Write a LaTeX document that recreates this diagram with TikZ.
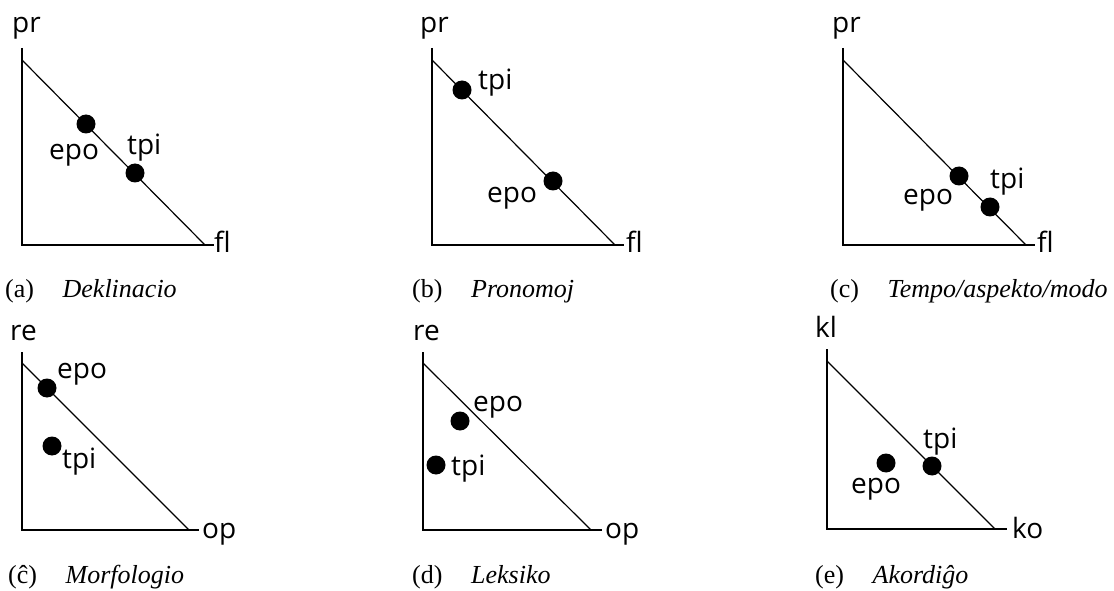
\documentclass[tikz,border=0pt]{standalone}
\usepackage{fontspec}
\setmainfont{Liberation Serif}
\newfontfamily\labelfont{Open Sans}
\begin{document}
\begin{tikzpicture}[x=1pt, y=1pt,
		axis/.style={line width=1.8pt},
		diag/.style={line width=1.2pt},
		dot/.style={circle, fill=black, inner sep=0pt, minimum size=19pt},
		lab/.style={font=\labelfont\fontsize{28}{30}\selectfont, anchor=base west, inner sep=0pt},
		capt/.style={font=\fontsize{26}{28}\selectfont, anchor=base west, inner sep=0pt}]
		\useasboundingbox (0,0) rectangle (1114,590);
		
		%---------------- (a) DEKLINACIO ----------------
		\begin{scope}[shift={(22,345)}]
			\coordinate (T) at (0,197);
			\coordinate (O) at (0,0);
			\coordinate (H) at (192,0);
			\coordinate (D1) at (0,185);
			\coordinate (D2) at (183,0);
			\draw[axis] (T) -- (O) -- (H);
			\draw[diag] (D1) -- (D2);
			\node[lab] (ya) at (-10,212) {pr};
			\node[lab] (xa) at (192,-8) {fl};
			% points
			\node[dot] (epoa) at (64,121) {};
			\node[dot] (tpia) at (113,72) {};
			\node[lab] (epola) at (27,85) {epo};
			\node[lab] (tpila) at (105,90) {tpi};
		\end{scope}
		\node[capt] (capa) at (5,292) {(a)\hspace{1.1em}\textit{Deklinacio}};
		
		%---------------- (b) PRONOMOJ ----------------
		\begin{scope}[shift={(432,345)}]
			\coordinate (T) at (0,197);
			\coordinate (O) at (0,0);
			\coordinate (H) at (192,0);
			\coordinate (D1) at (0,185);
			\coordinate (D2) at (183,0);
			\draw[axis] (T) -- (O) -- (H);
			\draw[diag] (D1) -- (D2);
			\node[lab] (yb) at (-12,212) {pr};
			\node[lab] (xb) at (194,-8) {fl};
			% points
			\node[dot] (tpib) at (30,155) {};
			\node[dot] (epob) at (121,64) {};
			\node[lab] (tpilb) at (46,155) {tpi};
			\node[lab] (epolb) at (55,42) {epo};
		\end{scope}
		\node[capt] (capb) at (412,292) {(b)\hspace{1.1em}\textit{Pronomoj}};
		
		%---------------- (c) TEMPO/ASPEKTO/MODO ----------------
		\begin{scope}[shift={(843,345)}]
			\coordinate (T) at (0,197);
			\coordinate (O) at (0,0);
			\coordinate (H) at (192,0);
			\coordinate (D1) at (0,185);
			\coordinate (D2) at (183,0);
			\draw[axis] (T) -- (O) -- (H);
			\draw[diag] (D1) -- (D2);
			\node[lab] (yc) at (-11,212) {pr};
			\node[lab] (xc) at (194,-8) {fl};
			% points
			\node[dot] (epoc) at (116,69) {};
			\node[dot] (tpic) at (147,38) {};
			\node[lab] (epolc) at (60,40) {epo};
			\node[lab] (tpilc) at (147,56) {tpi};
		\end{scope}
		\node[capt] (capc) at (830,292) {(c)\hspace{1.1em}\textit{Tempo/aspekto/modo}};
		
		%---------------- (ĉ) MORFOLOGIO ----------------
		\begin{scope}[shift={(22,60)}]
			\coordinate (T) at (0,178);
			\coordinate (O) at (0,0);
			\coordinate (H) at (177,0);
			\coordinate (D1) at (0,167);
			\coordinate (D2) at (167,0);
			\draw[axis] (T) -- (O) -- (H);
			\draw[diag] (D1) -- (D2);
			\node[lab] (ycc) at (-12,190) {re};
			\node[lab] (xcc) at (180,-8) {op};
			% points
			\node[dot] (epocc) at (25,142) {};
			\node[dot] (tpicc) at (30,84) {};
			\node[lab] (epolcc) at (35,152) {epo};
			\node[lab] (tpilcc) at (40,62) {tpi};
		\end{scope}
		\node[capt] (capcc) at (8,7) {(ĉ)\hspace{1.1em}\textit{Morfologio}};
		
		%---------------- (d) LEKSIKO ----------------
		\begin{scope}[shift={(423,60)}]
			\coordinate (T) at (0,178);
			\coordinate (O) at (0,0);
			\coordinate (H) at (179,0);
			\coordinate (D1) at (0,167);
			\coordinate (D2) at (168,0);
			\draw[axis] (T) -- (O) -- (H);
			\draw[diag] (D1) -- (D2);
			\node[lab] (yd) at (-10,190) {re};
			\node[lab] (xd) at (182,-8) {op};
			% points
			\node[dot] (epod) at (37,109) {};
			\node[dot] (tpid) at (13,65) {};
			\node[lab] (epold) at (50,119) {epo};
			\node[lab] (tpild) at (28,55) {tpi};
		\end{scope}
		\node[capt] (capd) at (412,7) {(d)\hspace{1.1em}\textit{Leksiko}};
		
		%---------------- (e) AKORDIĜO ----------------
		\begin{scope}[shift={(827,61)}]
			\coordinate (T) at (0,180);
			\coordinate (O) at (0,0);
			\coordinate (H) at (180,0);
			\coordinate (D1) at (0,168);
			\coordinate (D2) at (168,0);
			\draw[axis] (T) -- (O) -- (H);
			\draw[diag] (D1) -- (D2);
			\node[lab] (ye) at (-12,192) {kl};
			\node[lab] (xe) at (185,-9) {ko};
			% points
			\node[dot] (epoe) at (59,66) {};
			\node[dot] (tpie) at (105,63) {};
			\node[lab] (epole) at (24,36) {epo};
			\node[lab] (tpile) at (96,81) {tpi};
		\end{scope}
		\node[capt] (cape) at (815,7) {(e)\hspace{1.1em}\textit{Akordiĝo}};
	\end{tikzpicture}
\end{document}
